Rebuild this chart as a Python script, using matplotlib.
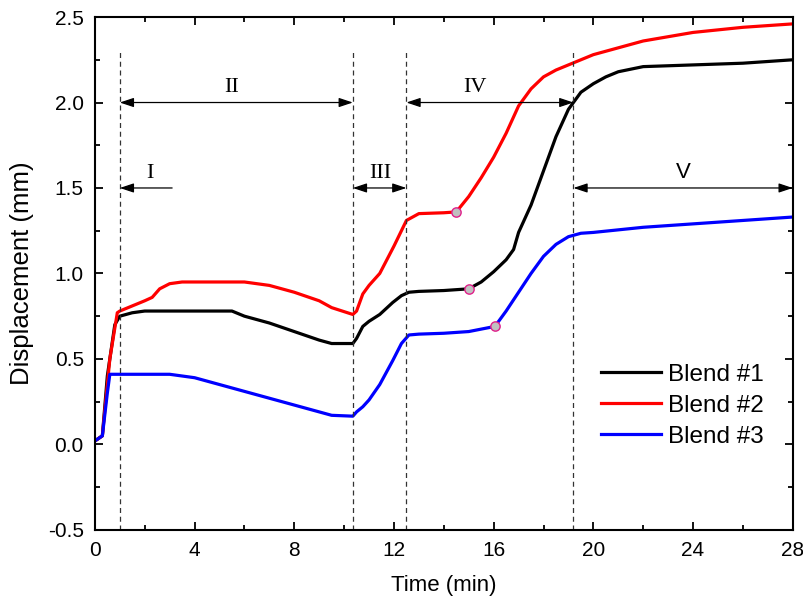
"""Displacement vs time for three blends, with stage annotations."""

import matplotlib
matplotlib.use("Agg")
import matplotlib.pyplot as plt
from matplotlib.ticker import MultipleLocator, FormatStrFormatter

plt.rcParams["font.family"] = ["Liberation Sans", "DejaVu Sans"]

# Blend #1 (black)
t1 = [0, 0.3, 0.5, 0.8, 1.0, 1.5, 2, 3, 4, 5, 5.5, 6, 7, 8, 9, 9.5, 10.35, 10.5,
      10.75, 11.0, 11.43, 11.95, 12.3, 12.6, 13, 14, 15, 15.5, 16, 16.5, 16.8, 17,
      17.5, 18, 18.5, 19, 19.5, 20, 20.5, 21, 22, 24, 26, 28]
d1 = [0.02, 0.05, 0.40, 0.70, 0.75, 0.77, 0.78, 0.78, 0.78, 0.78, 0.78, 0.75, 0.71,
      0.66, 0.61, 0.59, 0.59, 0.62, 0.69, 0.72, 0.76, 0.83, 0.87, 0.89, 0.895, 0.90,
      0.91, 0.95, 1.01, 1.08, 1.14, 1.24, 1.40, 1.60, 1.80, 1.96, 2.06, 2.11, 2.15,
      2.18, 2.21, 2.22, 2.23, 2.25]

# Blend #2 (red)
t2 = [0, 0.3, 0.6, 0.9, 1.0, 1.5, 2, 2.3, 2.6, 3, 3.5, 4, 5, 6, 7, 8, 9, 9.5, 10.35,
      10.5, 10.75, 11, 11.43, 12, 12.5, 13, 14, 14.5, 15, 15.5, 16, 16.5, 17, 17.5,
      18, 18.5, 19, 19.5, 20, 21, 22, 24, 26, 28]
d2 = [0.02, 0.05, 0.50, 0.77, 0.78, 0.81, 0.84, 0.86, 0.91, 0.94, 0.95, 0.95, 0.95,
      0.95, 0.93, 0.89, 0.84, 0.80, 0.76, 0.78, 0.88, 0.93, 1.00, 1.16, 1.31, 1.35,
      1.355, 1.36, 1.45, 1.56, 1.68, 1.82, 1.98, 2.08, 2.15, 2.19, 2.22, 2.25, 2.28,
      2.32, 2.36, 2.41, 2.44, 2.46]

# Blend #3 (blue)
t3 = [0, 0.3, 0.5, 0.6, 1, 2, 3, 4, 5, 6, 7, 8, 9, 9.5, 10.35, 10.5, 10.75, 11.0,
      11.43, 11.95, 12.3, 12.6, 13, 14, 15, 16.05, 16.5, 17, 17.5, 18, 18.5, 19,
      19.5, 20, 22, 24, 26, 28]
d3 = [0.02, 0.05, 0.30, 0.41, 0.41, 0.41, 0.41, 0.39, 0.35, 0.31, 0.27, 0.23, 0.19,
      0.17, 0.165, 0.19, 0.22, 0.26, 0.35, 0.49, 0.59, 0.64, 0.645, 0.65, 0.66,
      0.69, 0.78, 0.89, 1.00, 1.10, 1.17, 1.215, 1.235, 1.24, 1.27, 1.29, 1.31, 1.33]

# marked points on each curve
mark_t = [15.0, 14.5, 16.05]
mark_d = [0.91, 1.36, 0.69]

# stage boundaries and labels
bounds = [1.0, 10.35, 12.5, 19.2]
stage_labels = ["I", "II", "III", "IV", "V"]

fig = plt.figure(figsize=(8.04, 6.09), dpi=100)
ax = fig.add_axes([0.118, 0.13, 0.868, 0.842])

ax.plot(t1, d1, color="black", lw=2.3, label="Blend #1")
ax.plot(t2, d2, color="red", lw=2.3, label="Blend #2")
ax.plot(t3, d3, color="blue", lw=2.3, label="Blend #3")
ax.scatter(mark_t, mark_d, s=45, facecolor="#c0c0c0", edgecolor="#e0208a",
           linewidth=1, zorder=5)

for b in bounds:
    ax.plot([b, b], [-0.5, 2.31], ls=(0, (4, 3)), lw=0.9, color="#333333")

arrow = dict(arrowstyle="<|-|>,head_length=0.6,head_width=0.2", color="black",
             lw=0.9, mutation_scale=14, shrinkA=0, shrinkB=0)
one = dict(arrowstyle="-|>,head_length=0.6,head_width=0.2", color="black",
           lw=0.9, mutation_scale=14, shrinkA=0, shrinkB=0)
ax.annotate("", xy=(bounds[0], 1.5), xytext=(3.1, 1.5), arrowprops=one)
ax.annotate("", xy=(bounds[0], 2.0), xytext=(bounds[1], 2.0), arrowprops=arrow)
ax.annotate("", xy=(bounds[1], 1.5), xytext=(bounds[2], 1.5), arrowprops=arrow)
ax.annotate("", xy=(bounds[2], 2.0), xytext=(bounds[3], 2.0), arrowprops=arrow)
ax.annotate("", xy=(bounds[3], 1.5), xytext=(28, 1.5), arrowprops=arrow)

serif = dict(family="Liberation Serif", fontsize=16, ha="center", va="bottom")
ax.text(2.2, 1.53, stage_labels[0], **serif)
ax.text(5.5, 2.03, stage_labels[1], **serif)
ax.text(11.45, 1.53, stage_labels[2], **serif)
ax.text(15.25, 2.03, stage_labels[3], **serif)
ax.text(23.6, 1.53, stage_labels[4], fontsize=16, ha="center", va="bottom")

ax.set_xlim(0, 28)
ax.set_ylim(-0.5, 2.5)
ax.xaxis.set_major_locator(MultipleLocator(4))
ax.xaxis.set_minor_locator(MultipleLocator(2))
ax.yaxis.set_major_locator(MultipleLocator(0.5))
ax.yaxis.set_minor_locator(MultipleLocator(0.25))
ax.yaxis.set_major_formatter(FormatStrFormatter("%.1f"))
ax.tick_params(which="both", direction="in", top=True, right=True, width=1.3,
               labelsize=15)
ax.tick_params(which="major", length=6, pad=8)
ax.tick_params(which="minor", length=3.5)
for s in ax.spines.values():
    s.set_linewidth(1.5)

ax.set_xlabel("Time (min)", fontsize=16, labelpad=11)
ax.set_ylabel("Displacement (mm)", fontsize=18.5, labelpad=10)

ax.legend(loc="lower right", bbox_to_anchor=(0.99, 0.117), frameon=False,
          fontsize=17.5, handlelength=2.45, handletextpad=0.3, labelspacing=0.37)

fig.savefig("out.png", dpi=100)
